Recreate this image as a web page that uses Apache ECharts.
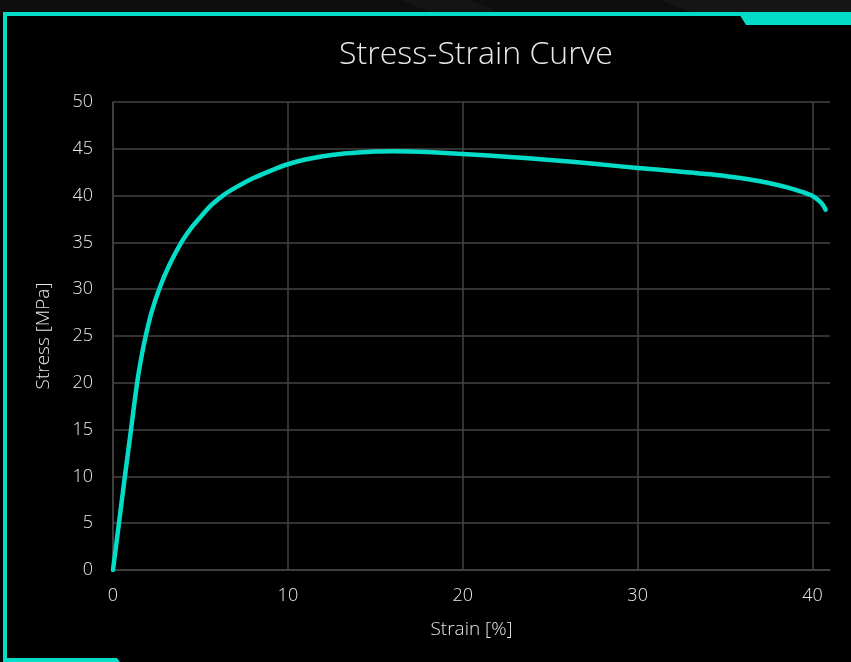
<!DOCTYPE html>
<html>
<head>
<meta charset="utf-8">
<script src="https://cdn.jsdelivr.net/npm/echarts@6/dist/echarts.min.js"></script>
<style>
  html, body { margin: 0; padding: 0; background: #000; }
  #chart { width: 851px; height: 662px; }
</style>
</head>
<body>
<div id="chart"></div>
<script>
// strain [%] and stress [MPa]
var strain = [0, 0.34, 0.68, 1.03, 1.38, 1.6, 1.87, 2.2, 2.64, 3.2, 3.91, 4.5, 5.0, 5.6, 6.28, 7, 8, 9, 10, 11, 12, 13, 14, 15, 16, 17, 18, 20, 22.5, 25, 27.5, 30, 32.5, 35, 36.5, 37.5, 38.5, 39.3, 40, 40.4, 40.6, 40.75];
var stress = [0, 5, 10, 15, 20, 22.5, 25, 27.5, 30, 32.5, 35, 36.6, 37.7, 38.95, 40, 40.85, 41.85, 42.65, 43.35, 43.85, 44.2, 44.45, 44.6, 44.7, 44.75, 44.72, 44.65, 44.45, 44.15, 43.8, 43.4, 42.95, 42.55, 42.1, 41.7, 41.35, 40.9, 40.45, 39.95, 39.4, 39.0, 38.5];
var xTicks = [0, 10, 20, 30, 40];
var yTicks = [0, 5, 10, 15, 20, 25, 30, 35, 40, 45, 50];

var teal = '#03dcc6';
var gridGray = '#444444';
var textColor = '#e8e8e8';
var font = '"Open Sans", Lato, sans-serif';

var points = [];
for (let i = 0; i < strain.length; i++) {
  points.push([strain[i], stress[i]]);
}

var chart = echarts.init(document.getElementById('chart'));

var option = {
  backgroundColor: '#000',
  animation: false,
  title: {
    text: 'Stress-Strain Curve',
    left: 471,
    textAlign: 'center',
    top: 34,
    textStyle: {
      color: textColor,
      fontFamily: font,
      fontWeight: 300,
      fontSize: 32
    }
  },
  grid: {
    left: 113,
    right: 21,
    top: 102,
    bottom: 92
  },
  xAxis: {
    type: 'value',
    min: 0,
    max: 41,
    interval: 10,
    name: 'Strain [%]',
    nameLocation: 'middle',
    nameGap: 50,
    nameTextStyle: { color: textColor, fontFamily: font, fontWeight: 300, fontSize: 19 },
    axisLine: { show: true, lineStyle: { color: gridGray, width: 1.5 } },
    axisTick: { show: false },
    axisLabel: {
      color: textColor,
      fontFamily: font,
      fontWeight: 300,
      fontSize: 18,
      margin: 17,
      showMaxLabel: false,
      formatter: function (v) { return xTicks.indexOf(v) >= 0 ? String(v) : ''; }
    },
    splitLine: { show: true, showMaxLine: false, lineStyle: { color: gridGray, width: 1.5 } }
  },
  yAxis: {
    type: 'value',
    min: 0,
    max: 50,
    interval: 5,
    name: 'Stress [MPa]',
    nameLocation: 'middle',
    nameGap: 60,
    nameTextStyle: { color: textColor, fontFamily: font, fontWeight: 300, fontSize: 19 },
    axisLine: { show: true, lineStyle: { color: gridGray, width: 1.5 } },
    axisTick: { show: false },
    axisLabel: {
      color: textColor,
      fontFamily: font,
      fontWeight: 300,
      fontSize: 18,
      margin: 20,
      formatter: function (v) { return yTicks.indexOf(v) >= 0 ? String(v) : ''; }
    },
    splitLine: { show: true, lineStyle: { color: gridGray, width: 1.5 } }
  },
  series: [{
    type: 'line',
    data: points,
    smooth: 0.3,
    showSymbol: false,
    lineStyle: { color: teal, width: 4.5, cap: 'round', join: 'round' },
    itemStyle: { color: teal }
  }],
  graphic: [
    // dark strip along the top
    { type: 'rect', silent: true, shape: { x: 0, y: 0, width: 851, height: 12 }, style: { fill: '#0e0e0e' } },
    { type: 'polygon', silent: true, shape: { points: [[400, 0], [470, 0], [500, 12], [430, 12]] }, style: { fill: '#141414' } },
    { type: 'polygon', silent: true, shape: { points: [[660, 0], [851, 0], [851, 12], [690, 12]] }, style: { fill: '#151515' } },
    // teal frame
    { type: 'rect', silent: true, shape: { x: 3, y: 12, width: 737, height: 4 }, style: { fill: teal } },
    { type: 'polygon', silent: true, shape: { points: [[738, 12], [851, 12], [851, 25], [746, 25]] }, style: { fill: teal } },
    { type: 'rect', silent: true, shape: { x: 3, y: 12, width: 4, height: 650 }, style: { fill: teal } },
    { type: 'polygon', silent: true, shape: { points: [[3, 658], [117, 658], [120, 662], [3, 662]] }, style: { fill: teal } }
  ]
};

chart.setOption(option);
</script>
</body>
</html>
